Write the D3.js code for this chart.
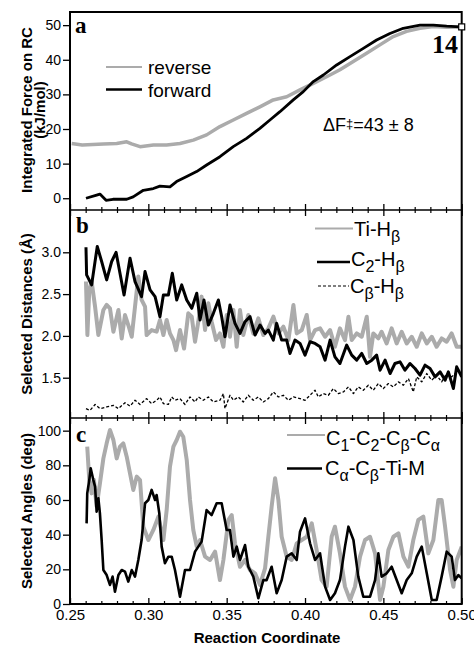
<!DOCTYPE html>
<html><head><meta charset="utf-8">
<script src="https://cdn.jsdelivr.net/npm/d3@7"></script>
<style>
body{margin:0;background:#fff;}
svg{display:block;font-family:"Liberation Sans",Arial,Helvetica,sans-serif;}
</style></head>
<body><div id="chart"></div>
<script>
// ---------- DATA ----------
const xTicks = [0.25, 0.30, 0.35, 0.40, 0.45, 0.50];
const yTicksA = [0, 10, 20, 30, 40, 50];
const yTicksB = [1.5, 2.0, 2.5, 3.0];
const yTicksC = [0, 20, 40, 60, 80, 100];

// panel a: integrated force
const forwardX = [0.2602,0.267,0.2691,0.273,0.2774,0.2862,0.2903,0.2968,0.3032,0.3074,0.3138,0.318,0.3245,0.3308,0.3372,0.3457,0.3542,0.3627,0.3712,0.3776,0.384,0.3925,0.3989,0.4053,0.4117,0.4202,0.4287,0.4372,0.4457,0.4542,0.4627,0.4734,0.4819,0.4904,0.4989];
const forwardY = [0,0.9,1.2,-0.6,-0.3,-0.3,0.4,2.3,2.8,3.5,3.3,4.8,6.3,7.7,9.6,12.0,14.9,17.3,20.2,22.6,25.0,28.4,30.8,33.7,35.6,38.5,40.9,43.3,45.7,47.6,49.1,50.0,50.0,49.7,49.5];
const reverseX = [0.2511,0.2578,0.2713,0.2798,0.2862,0.2893,0.2947,0.3032,0.3117,0.3202,0.3287,0.3372,0.3457,0.3542,0.3627,0.3712,0.3797,0.3883,0.3968,0.4053,0.4138,0.4223,0.4308,0.4393,0.4478,0.4563,0.4648,0.4734,0.4819,0.4904,0.4989];
const reverseY = [15.8,15.4,15.7,15.8,16.3,15.7,14.9,15.4,15.4,15.8,16.8,18.3,20.7,22.6,24.5,26.4,28.4,29.3,31.3,33.2,35.1,37.1,39.5,41.9,44.3,46.7,48.2,49.1,49.6,49.4,49.5];

// panel b: selected distances
const c2hX = [0.2602,0.2606,0.2638,0.2674,0.2702,0.2734,0.2766,0.2794,0.2819,0.2845,0.2883,0.2915,0.2957,0.2979,0.3011,0.3043,0.3074,0.3096,0.3128,0.3153,0.3181,0.3213,0.3245,0.3277,0.3309,0.3330,0.3355,0.3383,0.3415,0.3447,0.3468,0.3489,0.3521,0.3553,0.3585,0.3617,0.3649,0.3681,0.3713,0.3745,0.3766,0.3798,0.3819,0.3851,0.3883,0.3904,0.3936,0.3968,0.4000,0.4032,0.4064,0.4096,0.4128,0.4160,0.4191,0.4223,0.4266,0.4298,0.4330,0.4362,0.4394,0.4426,0.4457,0.4479,0.4511,0.4543,0.4574,0.4606,0.4638,0.4670,0.4702,0.4734,0.4766,0.4798,0.4830,0.4862,0.4894,0.4915,0.4947,0.4968,0.5000];
const c2hY = [3.06,2.73,2.61,3.07,2.89,2.67,2.89,3.00,2.75,2.49,2.93,2.65,2.47,2.77,2.55,2.47,2.23,2.49,2.49,2.75,2.43,2.61,2.43,2.33,2.51,2.19,2.43,2.13,2.27,2.43,2.23,1.99,2.37,2.15,2.03,2.17,2.23,2.01,2.13,2.03,2.07,1.95,2.15,1.95,1.95,1.79,1.95,1.91,1.77,1.93,1.91,1.87,1.71,1.95,1.75,1.67,1.89,1.77,1.71,1.79,1.67,1.71,1.77,1.59,1.71,1.55,1.67,1.69,1.59,1.67,1.61,1.53,1.65,1.61,1.51,1.57,1.47,1.57,1.37,1.63,1.51];
const tihX = [0.2602,0.2611,0.2623,0.2638,0.2660,0.2681,0.2713,0.2734,0.2755,0.2777,0.2809,0.2830,0.2851,0.2872,0.2894,0.2915,0.2936,0.2957,0.2979,0.2989,0.3021,0.3053,0.3074,0.3096,0.3117,0.3138,0.3160,0.3177,0.3202,0.3228,0.3255,0.3277,0.3298,0.3319,0.3340,0.3362,0.3383,0.3404,0.3432,0.3457,0.3479,0.3500,0.3521,0.3543,0.3564,0.3585,0.3606,0.3638,0.3670,0.3702,0.3734,0.3766,0.3798,0.3830,0.3862,0.3894,0.3926,0.3947,0.3979,0.4011,0.4032,0.4064,0.4096,0.4128,0.4160,0.4191,0.4223,0.4255,0.4277,0.4298,0.4330,0.4362,0.4394,0.4415,0.4436,0.4468,0.4489,0.4521,0.4553,0.4585,0.4617,0.4649,0.4681,0.4713,0.4745,0.4777,0.4809,0.4840,0.4872,0.4904,0.4936,0.4968,0.5000];
const tihY = [2.65,2.01,2.55,2.65,2.35,2.01,2.31,2.37,2.33,2.05,2.31,1.97,2.25,2.13,1.99,2.35,2.71,2.43,2.35,2.01,2.07,2.05,2.19,2.01,2.19,2.03,1.95,1.83,2.07,1.85,2.27,2.23,1.93,2.17,2.47,2.07,2.39,2.17,1.95,2.03,1.87,2.25,1.99,2.31,1.87,2.31,2.01,2.25,2.03,2.21,2.01,2.09,2.23,2.03,2.11,1.95,2.37,2.03,2.07,2.25,1.95,2.07,2.09,1.99,2.07,1.87,2.09,1.95,2.23,1.95,2.03,1.99,2.23,1.75,2.03,1.97,2.05,1.91,2.09,1.91,2.05,1.91,1.99,1.87,2.03,1.91,1.99,1.87,1.97,1.93,2.03,1.87,1.87];
const cbhX = [0.2602,0.2628,0.2660,0.2691,0.2734,0.2777,0.2809,0.2851,0.2883,0.2915,0.2947,0.2989,0.3021,0.3053,0.3074,0.3096,0.3128,0.3149,0.3170,0.3202,0.3234,0.3266,0.3298,0.3319,0.3351,0.3383,0.3415,0.3457,0.3479,0.3489,0.3521,0.3543,0.3574,0.3606,0.3638,0.3670,0.3702,0.3734,0.3766,0.3798,0.3830,0.3862,0.3894,0.3926,0.3968,0.4000,0.4032,0.4064,0.4085,0.4117,0.4149,0.4181,0.4213,0.4245,0.4277,0.4309,0.4340,0.4372,0.4404,0.4436,0.4468,0.4500,0.4532,0.4564,0.4596,0.4628,0.4660,0.4691,0.4713,0.4745,0.4777,0.4809,0.4840,0.4872,0.4904,0.4936,0.4968,0.5000];
const cbhY = [1.13,1.11,1.18,1.13,1.15,1.17,1.13,1.20,1.16,1.23,1.18,1.25,1.19,1.23,1.27,1.19,1.18,1.27,1.23,1.25,1.18,1.27,1.21,1.27,1.23,1.27,1.21,1.23,1.31,1.13,1.29,1.23,1.27,1.21,1.29,1.23,1.27,1.21,1.25,1.33,1.27,1.29,1.23,1.27,1.25,1.23,1.29,1.35,1.27,1.31,1.29,1.37,1.31,1.33,1.39,1.31,1.39,1.35,1.41,1.35,1.43,1.37,1.43,1.39,1.45,1.41,1.49,1.33,1.51,1.45,1.55,1.47,1.53,1.45,1.55,1.51,1.57,1.55];

// panel c: selected angles
const camX = [0.2606,0.2610,0.2623,0.2632,0.2649,0.2660,0.2670,0.2681,0.2691,0.2702,0.2713,0.2734,0.2755,0.2772,0.2787,0.2809,0.2830,0.2851,0.2872,0.2894,0.2915,0.2936,0.2957,0.2979,0.3000,0.3021,0.3043,0.3053,0.3070,0.3085,0.3106,0.3128,0.3149,0.3170,0.3202,0.3234,0.3266,0.3298,0.3319,0.3340,0.3372,0.3404,0.3436,0.3468,0.3500,0.3521,0.3543,0.3564,0.3585,0.3617,0.3638,0.3670,0.3702,0.3734,0.3755,0.3787,0.3819,0.3851,0.3883,0.3915,0.3947,0.3968,0.4000,0.4032,0.4064,0.4096,0.4128,0.4160,0.4191,0.4223,0.4255,0.4277,0.4309,0.4340,0.4372,0.4415,0.4447,0.4468,0.4489,0.4521,0.4553,0.4585,0.4617,0.4649,0.4681,0.4713,0.4745,0.4777,0.4809,0.4840,0.4872,0.4904,0.4936,0.4957,0.4979,0.5000];
const camY = [46.5,63.8,71.5,78.3,71.5,67.7,53.3,61.0,52.3,36.9,19.6,16.7,11.0,15.8,7.1,16.7,19.6,18.7,12.9,19.6,15.8,25.4,36.9,58.1,60.0,65.8,60.0,62.9,52.3,33.1,23.5,27.3,27.3,19.6,4.2,19.6,19.6,30.2,33.1,36.0,54.2,51.3,58.1,58.1,42.7,42.7,27.3,33.1,25.4,34.0,21.5,15.8,3.3,13.8,13.8,21.5,6.2,13.8,27.3,29.2,25.4,41.7,49.4,35.0,25.4,29.2,10.0,2.3,6.2,13.8,33.1,44.6,36.9,15.8,4.2,4.2,13.8,29.2,15.8,17.7,21.5,13.8,6.2,13.8,17.7,27.3,33.1,17.7,2.3,2.3,15.8,30.2,27.3,13.8,16.7,14.8];
const cccX = [0.2610,0.2623,0.2638,0.2653,0.2670,0.2691,0.2713,0.2734,0.2755,0.2777,0.2798,0.2819,0.2840,0.2862,0.2883,0.2904,0.2926,0.2947,0.2968,0.3000,0.3032,0.3064,0.3096,0.3117,0.3138,0.3160,0.3181,0.3202,0.3223,0.3245,0.3266,0.3287,0.3309,0.3330,0.3362,0.3394,0.3426,0.3457,0.3479,0.3511,0.3532,0.3553,0.3585,0.3617,0.3649,0.3681,0.3713,0.3745,0.3766,0.3787,0.3809,0.3830,0.3851,0.3883,0.3915,0.3947,0.3979,0.4011,0.4043,0.4074,0.4106,0.4138,0.4170,0.4191,0.4223,0.4255,0.4287,0.4319,0.4351,0.4383,0.4415,0.4447,0.4479,0.4500,0.4532,0.4564,0.4596,0.4628,0.4660,0.4691,0.4723,0.4755,0.4787,0.4819,0.4851,0.4872,0.4894,0.4926,0.4947,0.4968,0.5000];
const cccY = [90.8,71.5,63.8,71.5,56.2,69.6,84.0,92.7,100.4,94.6,84.0,90.8,92.7,85.0,75.4,65.8,73.5,71.5,44.6,36.9,42.7,50.4,36.9,54.2,79.2,90.8,94.6,99.4,96.5,83.1,60.0,42.7,33.1,36.9,27.3,25.4,30.2,13.8,25.4,48.5,51.3,35.0,21.5,25.4,19.6,17.7,11.0,20.6,38.8,56.2,72.5,60.0,38.8,27.3,25.4,35.0,36.9,38.8,46.5,31.2,13.8,10.0,38.8,44.6,29.2,10.0,2.3,10.0,27.3,36.9,38.8,29.2,2.3,10.0,31.2,38.8,40.8,27.3,21.5,36.9,48.5,50.4,29.2,36.9,60.0,60.0,44.6,19.6,10.0,25.4,33.1];

// ---------- LAYOUT ----------
const W = 474, H = 646;
const L = 70, R = 461.7;
const topA = 12, bAB = 210, bBC = 418, botC = 604;
const svg = d3.select("#chart").append("svg").attr("width", W).attr("height", H);

const x = d3.scaleLinear().domain([0.25, 0.50]).range([L, R]);
const yA = d3.scaleLinear().domain([-3.4, 53.8]).range([bAB, topA]);
const yB = d3.scaleLinear().domain([1.018, 3.506]).range([bBC, bAB]);
const yC = d3.scaleLinear().domain([0, 107.3]).range([botC, bBC]);

const defs = svg.append("defs");
function clip(id, y0, y1) {
  defs.append("clipPath").attr("id", id).append("rect")
    .attr("x", L).attr("y", y0).attr("width", R - L).attr("height", y1 - y0);
}
clip("ca", topA, bAB); clip("cb", bAB, bBC); clip("cc", bBC, botC);

const GRAY = "#ababab";
function series(xs, ys, yS, clipId, color, width, dash) {
  const pts = xs.map((v, i) => [v, ys[i]]);
  const line = d3.line().x(d => x(d[0])).y(d => yS(d[1]));
  const p = svg.append("path").datum(pts).attr("d", line)
    .attr("fill", "none").attr("stroke", color).attr("stroke-width", width)
    .attr("stroke-linejoin", "round").attr("clip-path", `url(#${clipId})`);
  if (dash) p.attr("stroke-dasharray", dash);
}

// panel a
series(reverseX, reverseY, yA, "ca", GRAY, 3.5);
series(forwardX, forwardY, yA, "ca", "#000", 2.8);
// panel b
series(tihX, tihY, yB, "cb", GRAY, 4);
series(cbhX, cbhY, yB, "cb", "#000", 1.3, "3,2");
series(c2hX, c2hY, yB, "cb", "#000", 3);
// panel c
series(cccX, cccY, yC, "cc", GRAY, 4);
series(camX, camY, yC, "cc", "#000", 2.6);

// ---------- AXES ----------
const minorTicks = d3.range(26, 50).filter(v => v % 5 !== 0).map(v => v / 100);
function xTickRow(y, dir) { // dir: -1 up, +1 down
  const gen = (dir < 0 ? d3.axisTop(x) : d3.axisBottom(x));
  svg.append("g").attr("transform", `translate(0,${y})`)
    .call(gen.tickValues(xTicks).tickSize(6).tickFormat(""))
    .call(g => g.select(".domain").remove())
    .call(g => g.selectAll("line").attr("stroke-width", 1.3));
  const gen2 = (dir < 0 ? d3.axisTop(x) : d3.axisBottom(x));
  svg.append("g").attr("transform", `translate(0,${y})`)
    .call(gen2.tickValues(minorTicks).tickSize(3).tickFormat(""))
    .call(g => g.select(".domain").remove())
    .call(g => g.selectAll("line").attr("stroke-width", 1.2));
}
xTickRow(bAB, -1); xTickRow(bAB, 1);
xTickRow(bBC, -1); xTickRow(bBC, 1);
xTickRow(botC, -1);

// bottom labels
svg.append("g").attr("transform", `translate(0,${botC})`)
  .call(d3.axisBottom(x).tickValues(xTicks).tickSize(0).tickPadding(5).tickFormat(d3.format(".2f")))
  .call(g => g.select(".domain").remove())
  .call(g => g.selectAll("text").attr("font-size", 15).attr("fill", "#000")
    .attr("font-family", "Liberation Sans, Arial, sans-serif"));

function yAxis(scale, ticks, fmt) {
  svg.append("g").attr("transform", `translate(${L},0)`)
    .call(d3.axisLeft(scale).tickValues(ticks).tickSize(7).tickPadding(2).tickFormat(fmt))
    .call(g => g.select(".domain").remove())
    .call(g => g.selectAll("line").attr("stroke-width", 1.3))
    .call(g => g.selectAll("text").attr("font-size", 14).attr("fill", "#000")
      .attr("font-family", "Liberation Sans, Arial, sans-serif"));
}
yAxis(yA, yTicksA, d3.format("d"));
yAxis(yB, yTicksB, d3.format(".1f"));
yAxis(yC, yTicksC, d3.format("d"));

// frame
svg.append("rect").attr("x", L).attr("y", topA).attr("width", R - L).attr("height", botC - topA)
  .attr("fill", "none").attr("stroke", "#000").attr("stroke-width", 2);
[bAB, bBC].forEach(y => svg.append("line").attr("x1", L).attr("x2", R).attr("y1", y).attr("y2", y)
  .attr("stroke", "#000").attr("stroke-width", 1.6));

// endpoint marker
svg.append("rect").attr("x", x(0.5) - 3).attr("y", yA(49.5) - 3).attr("width", 6).attr("height", 6)
  .attr("fill", "#fff").attr("stroke", "#000").attr("stroke-width", 1.2);

// ---------- TEXT ----------
const serif = "Liberation Serif, Times New Roman, serif";
function txt(xp, yp, s, size, opts = {}) {
  const t = svg.append("text").attr("x", xp).attr("y", yp).attr("font-size", size).text(s);
  if (opts.family) t.attr("font-family", opts.family);
  if (opts.weight) t.attr("font-weight", opts.weight);
  if (opts.anchor) t.attr("text-anchor", opts.anchor);
  return t;
}
txt(75, 33, "a", 23, {family: serif, weight: "bold"});
txt(76, 233, "b", 23, {family: serif, weight: "bold"});
txt(76, 442, "c", 23, {family: serif, weight: "bold"});
txt(458, 53, "14", 26, {family: serif, weight: "bold", anchor: "end"});

// delta F
const df = svg.append("text").attr("x", 323).attr("y", 131).attr("font-size", 18);
df.append("tspan").text("ΔF");
df.append("tspan").attr("font-size", 13).attr("dy", -3).text("‡");
df.append("tspan").attr("dy", 3).text("=43 ± 8");

// axis titles
function vtitle(cx, cy, s) {
  svg.append("text").attr("transform", `translate(${cx},${cy}) rotate(-90)`)
    .attr("text-anchor", "middle").attr("font-size", 15).attr("font-weight", "bold").text(s);
}
vtitle(32, 110, "Integrated Force on RC");
vtitle(45, 110, "(kJ/mol)");
vtitle(32, 314, "Selected Distances (Å)");
vtitle(32, 511, "Selected Angles (deg)");
svg.append("text").attr("x", 267).attr("y", 643).attr("text-anchor", "middle")
  .attr("font-size", 15).attr("font-weight", "bold").text("Reaction Coordinate");

// legends
function legLine(x1, x2, y, color, width, dash) {
  const l = svg.append("line").attr("x1", x1).attr("x2", x2).attr("y1", y).attr("y2", y)
    .attr("stroke", color).attr("stroke-width", width);
  if (dash) l.attr("stroke-dasharray", dash);
}
// parts: array of [text, isSub]
function legText(xp, yp, parts, size = 20, sub = 16) {
  const t = svg.append("text").attr("x", xp).attr("y", yp).attr("font-size", size);
  let cur = 0;
  parts.forEach(([s, isSub]) => {
    const target = isSub ? 6 : 0;
    const ts = t.append("tspan").attr("dy", target - cur).text(s);
    if (isSub) ts.attr("font-size", sub);
    cur = target;
  });
}
legLine(106, 142, 67, GRAY, 2.2);
txt(148, 74, "reverse", 19);
legLine(106, 142, 89.5, "#000", 2.6);
txt(148, 97, "forward", 19);

legLine(315, 353, 228.5, GRAY, 2);
legText(354, 236, [["Ti-H", false], ["β", true]]);
legLine(317, 350, 262, "#000", 2.6);
legText(351, 266, [["C", false], ["2", true], ["-H", false], ["β", true]]);
legLine(318, 349, 286, "#000", 1.2, "3,2");
legText(350, 293, [["C", false], ["β", true], ["-H", false], ["β", true]]);

legLine(287, 325, 435, GRAY, 2);
legText(326, 445, [["C", false], ["1", true], ["-C", false], ["2", true], ["-C", false], ["β", true], ["-C", false], ["α", true]]);
legLine(287, 322, 468.5, "#000", 2.6);
legText(325, 475, [["C", false], ["α", true], ["-C", false], ["β", true], ["-Ti-M", false]]);
</script>
</body></html>
